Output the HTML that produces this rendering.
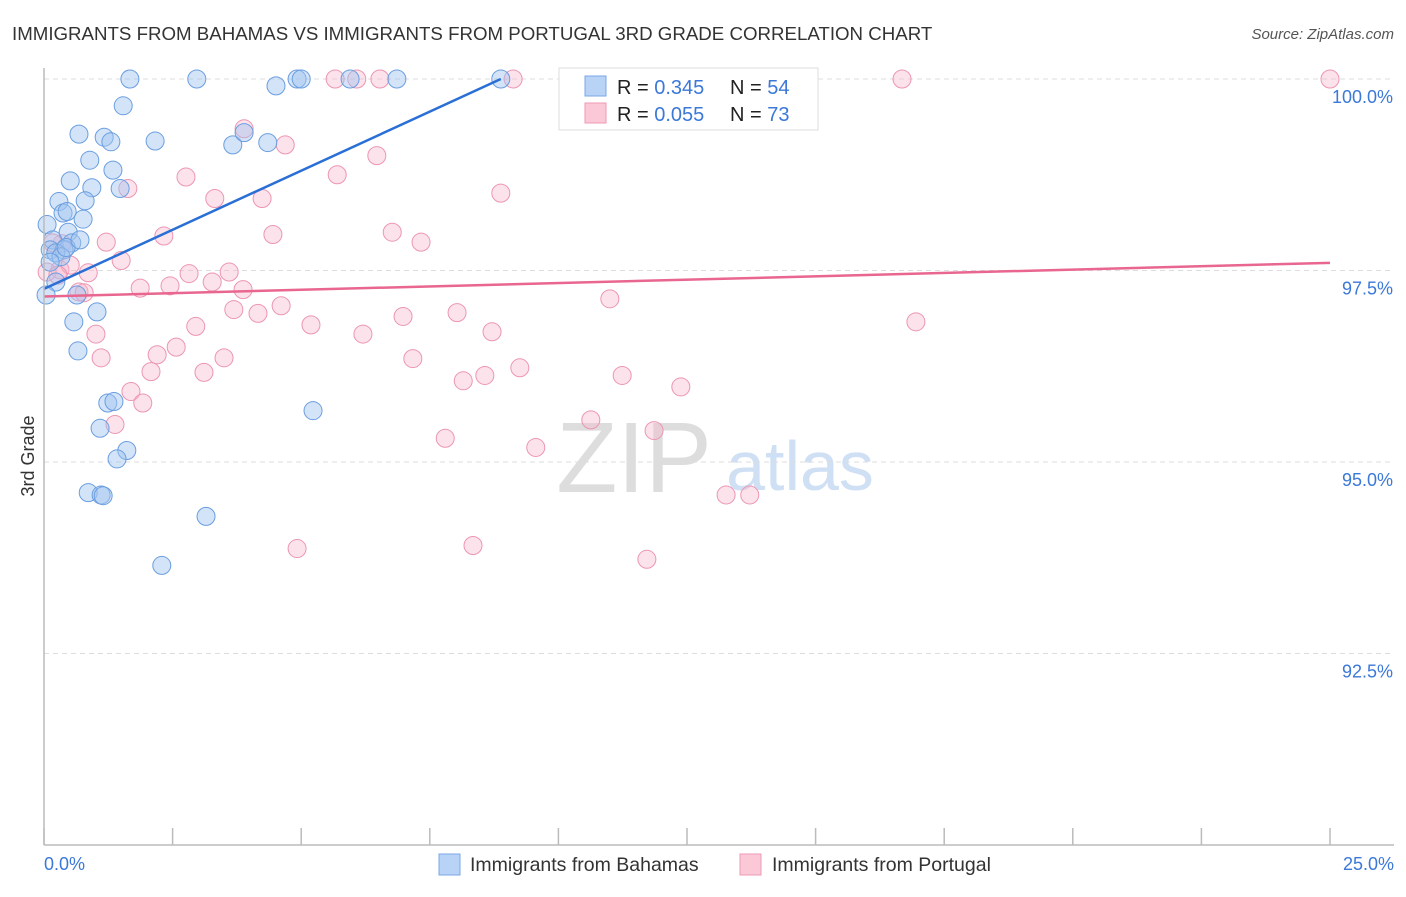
<!DOCTYPE html>
<html><head><meta charset="utf-8"><style>
body{margin:0;background:#fff;font-family:"Liberation Sans",sans-serif}
svg text{font-family:"Liberation Sans",sans-serif}
</style></head><body>
<svg id="c" width="1406" height="892">
<text x="12" y="40" font-size="18.7" fill="#333">IMMIGRANTS FROM BAHAMAS VS IMMIGRANTS FROM PORTUGAL 3RD GRADE CORRELATION CHART</text>
<text x="1394" y="39" font-size="15" font-style="italic" fill="#555" text-anchor="end">Source: ZipAtlas.com</text>
<text x="634" y="492" font-size="100" font-family="Liberation Serif" fill="#ddd" text-anchor="middle">ZIP</text>
<text x="800" y="490" font-size="70" fill="#cfe0f4" text-anchor="middle">atlas</text>
<text transform="translate(34,456) rotate(-90)" font-size="18" fill="#333" text-anchor="middle">3rd Grade</text>
<g id="grid"></g><g id="pts"></g><g id="lines"></g>
<line x1="44" y1="68" x2="44" y2="845" stroke="#bbb" stroke-width="1.5"/>
<line x1="44" y1="845" x2="1394" y2="845" stroke="#bbb" stroke-width="1.5"/>
<text x="44" y="870" font-size="18" fill="#3b78d8">0.0%</text>
<text x="1394" y="870" font-size="18" fill="#3b78d8" text-anchor="end">25.0%</text>
<g>
<rect x="559" y="68" width="259" height="62" fill="#fff" stroke="#ddd"/>
<rect x="585" y="76" width="21" height="20" fill="#b8d3f5" stroke="#7aa7e6"/>
<rect x="585" y="103" width="21" height="20" fill="#fbc8d8" stroke="#ef9ab5"/>
<text x="617" y="94" font-size="20" fill="#222">R = <tspan fill="#3b78d8">0.345</tspan><tspan x="730">N = </tspan><tspan fill="#3b78d8">54</tspan></text>
<text x="617" y="121" font-size="20" fill="#222">R = <tspan fill="#3b78d8">0.055</tspan><tspan x="730">N = </tspan><tspan fill="#3b78d8">73</tspan></text>
</g>
<g><rect x="439" y="854" width="21" height="21" fill="#b8d3f5" stroke="#7aa7e6"/><text x="470" y="871" font-size="19.5" fill="#333">Immigrants from Bahamas</text></g>
<g><rect x="740" y="854" width="21" height="21" fill="#fbc8d8" stroke="#ef9ab5"/><text x="772" y="871" font-size="19.5" fill="#333">Immigrants from Portugal</text></g>
</svg>
<script>
const yTicks=[100,97.5,95,92.5];
const yTickLabels=["100.0%","97.5%","95.0%","92.5%"];
const xTicks=[0,2.5,5,7.5,10,12.5,15,17.5,20,22.5,25];
const blueX=[1.67,2.97,4.92,5.00,5.95,6.86,8.88,4.51,1.54,0.68,1.17,1.30,2.16,3.67,3.89,4.35,0.89,1.34,0.51,0.93,1.48,0.29,0.80,0.37,0.45,0.76,0.06,0.17,0.47,0.54,0.12,0.39,0.23,0.33,0.23,0.04,0.64,1.03,0.58,0.66,1.24,1.36,1.09,1.61,1.42,0.86,1.11,1.15,3.15,2.29,5.23,0.12,0.43,0.70];
const blueY=[100,100,100,100,100,100,100,99.91,99.65,99.28,99.24,99.18,99.19,99.14,99.30,99.17,98.94,98.81,98.67,98.58,98.57,98.40,98.41,98.25,98.27,98.17,98.10,97.90,98.00,97.86,97.77,97.77,97.73,97.68,97.35,97.18,97.18,96.96,96.83,96.45,95.77,95.79,95.44,95.15,95.04,94.60,94.57,94.56,94.29,93.65,95.67,97.61,97.80,97.90];
const pinkX=[5.66,6.08,6.53,9.12,13.98,16.68,25.00,3.89,4.69,6.47,2.76,5.70,1.63,8.88,3.32,4.24,2.33,4.45,6.77,7.33,1.21,1.50,0.31,0.86,2.82,3.60,3.27,1.87,2.45,3.87,0.68,4.61,3.69,4.16,11.00,16.95,2.95,5.19,6.20,6.98,8.03,8.71,1.01,2.57,2.20,3.50,7.17,1.11,2.08,3.11,8.15,8.57,9.25,11.24,12.38,1.69,1.92,1.38,7.80,9.56,10.63,11.86,13.26,13.72,4.92,8.34,11.72,0.35,0.17,0.06,0.78,0.51,0.27];
const pinkY=[100,100,100,100,100,100,100,99.35,99.14,99.00,98.72,98.75,98.57,98.51,98.44,98.44,97.95,97.97,98.00,97.87,97.87,97.63,97.51,97.47,97.46,97.48,97.35,97.27,97.30,97.25,97.22,97.04,96.99,96.94,97.13,96.83,96.77,96.79,96.67,96.90,96.95,96.70,96.67,96.50,96.40,96.36,96.35,96.36,96.18,96.17,96.06,96.13,96.23,96.13,95.98,95.92,95.77,95.49,95.31,95.19,95.55,95.41,94.57,94.57,93.87,93.91,93.73,97.85,97.86,97.48,97.21,97.57,97.44];
const blueTrendX=[0,8.88];
const blueTrendY=[97.26,100];
const pinkTrendX=[0,25];
const pinkTrendY=[97.16,97.60];
const NS="http://www.w3.org/2000/svg";
const sx=v=>44+v*(1286/25);
const sy=v=>845-(v-90)*76.6;
function mk(t,a,p){const e=document.createElementNS(NS,t);for(const k in a)e.setAttribute(k,a[k]);p.appendChild(e);return e;}
const grid=document.getElementById('grid');
yTicks.forEach((t,i)=>{
 const l=mk('line',{x1:44,x2:1394,y1:sy(t),y2:sy(t),stroke:'#ddd','stroke-dasharray':'5,4'},grid);
 
 
 const tx=mk('text',{x:1393,y:sy(t)+24,'font-size':18,fill:'#3b78d8','text-anchor':'end'},grid);
 tx.textContent=yTickLabels[i];
 
 
});
xTicks.forEach(t=>{
 const l=mk('line',{x1:sx(t),x2:sx(t),y1:828,y2:845,stroke:'#bbb','stroke-width':1.5},grid);
 
 
});
const pts=document.getElementById('pts');
pinkX.forEach((x,i)=>{
 const c=mk('circle',{cx:sx(x),cy:sy(pinkY[i]),r:9,fill:'rgba(248,182,204,0.4)',stroke:'#ec96b2','stroke-width':1},pts);
 
 
});
blueX.forEach((x,i)=>{
 const c=mk('circle',{cx:sx(x),cy:sy(blueY[i]),r:9,fill:'rgba(160,196,240,0.45)',stroke:'#6a9ee0','stroke-width':1},pts);
 
 
});
const lines=document.getElementById('lines');
const bl=mk('line',{x1:sx(blueTrendX[0]),y1:sy(blueTrendY[0]),x2:sx(blueTrendX[1]),y2:sy(blueTrendY[1]),stroke:'#2a6fd6','stroke-width':2.5},lines);


const pl=mk('line',{x1:sx(pinkTrendX[0]),y1:sy(pinkTrendY[0]),x2:sx(pinkTrendX[1]),y2:sy(pinkTrendY[1]),stroke:'#e8668f','stroke-width':2.5},lines);


</script>
</body></html>
